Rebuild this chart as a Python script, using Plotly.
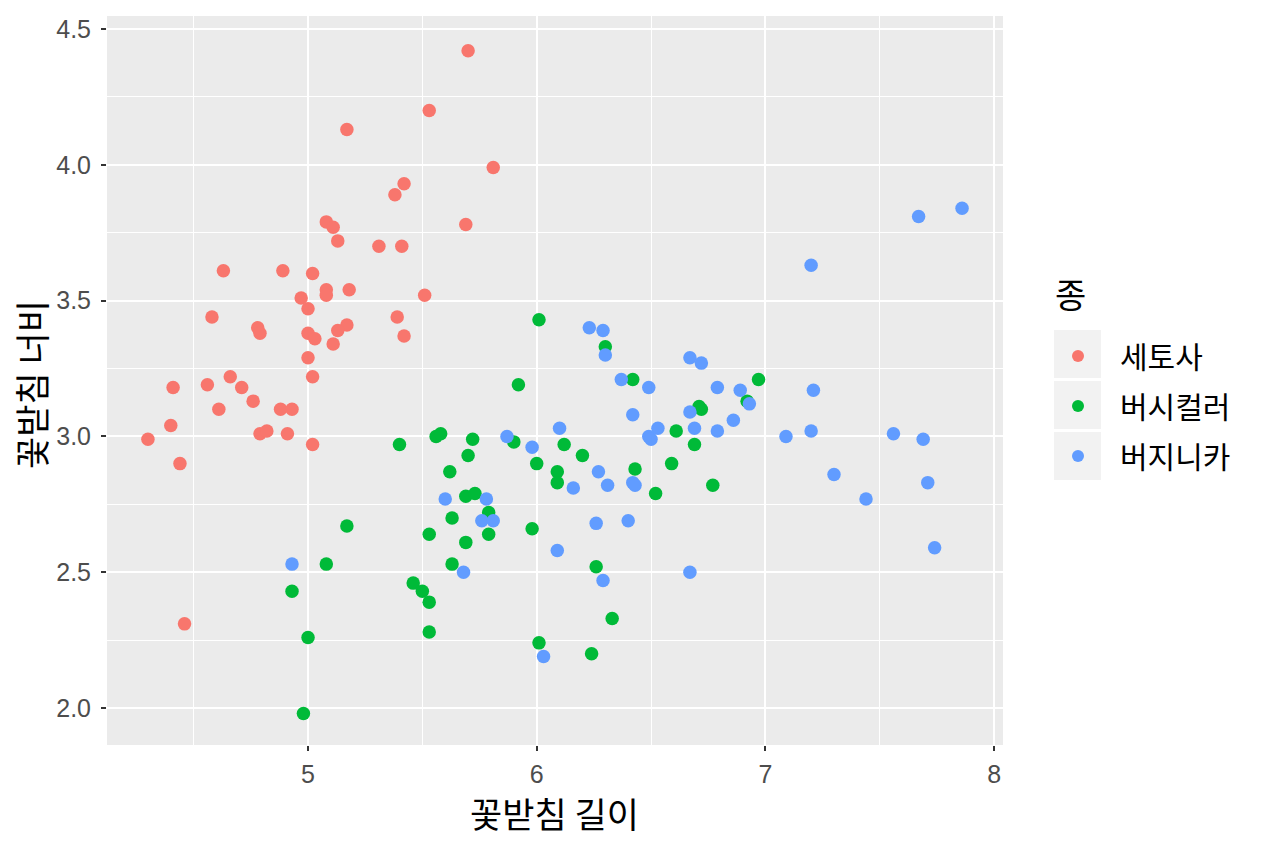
import plotly.graph_objects as go

species = ["세토사", "버시컬러", "버지니카"]
colors = ["#F8766D", "#00BA38", "#619CFF"]

setosa_x = [5.70, 5.53, 5.17, 5.81, 5.42, 5.38, 5.08, 5.11, 5.69, 5.13, 5.31, 5.41, 4.63, 4.89, 5.02,
            5.08, 5.18, 5.08, 5.51, 4.97, 5.00, 4.58, 5.39, 4.78, 4.79, 5.17, 5.13, 5.00, 5.03, 5.42,
            5.11, 5.00, 5.02, 4.66, 4.71, 4.41, 4.56, 4.76, 4.61, 4.88, 4.93, 4.40, 4.79, 4.82, 4.91,
            4.30, 5.02, 4.44, 4.46]
setosa_y = [4.42, 4.20, 4.13, 3.99, 3.93, 3.89, 3.79, 3.77, 3.78, 3.72, 3.70, 3.70, 3.61, 3.61, 3.60,
            3.54, 3.54, 3.52, 3.52, 3.51, 3.47, 3.44, 3.44, 3.40, 3.38, 3.41, 3.39, 3.38, 3.36, 3.37,
            3.34, 3.29, 3.22, 3.22, 3.18, 3.18, 3.19, 3.13, 3.10, 3.10, 3.10, 3.04, 3.01, 3.02, 3.01,
            2.99, 2.97, 2.90, 2.31]

versicolor_x = [6.01, 6.30, 6.42, 5.92, 6.97, 6.71, 6.72, 6.92, 6.61, 6.12, 6.69, 6.00, 6.20, 6.09, 6.09,
                6.59, 6.43, 6.52, 6.77, 5.98, 6.26, 6.33, 6.01, 6.24, 5.40, 5.56, 5.58, 5.72, 5.70, 5.90,
                5.62, 5.69, 5.73, 5.79, 5.79, 5.63, 5.17, 5.53, 5.69, 5.08, 5.63, 4.93, 5.46, 5.50, 5.53,
                5.00, 5.53, 4.98]
versicolor_y = [3.43, 3.33, 3.21, 3.19, 3.21, 3.11, 3.10, 3.13, 3.02, 2.97, 2.97, 2.90, 2.93, 2.87, 2.83,
                2.90, 2.88, 2.79, 2.82, 2.66, 2.52, 2.33, 2.24, 2.20, 2.97, 3.00, 3.01, 2.99, 2.93, 2.98,
                2.87, 2.78, 2.79, 2.72, 2.64, 2.70, 2.67, 2.64, 2.61, 2.53, 2.53, 2.43, 2.46, 2.43, 2.39,
                2.26, 2.28, 1.98]

virginica_x = [7.67, 7.86, 7.20, 6.23, 6.29, 6.30, 6.37, 6.49, 6.67, 6.72, 6.79, 6.89, 6.93, 6.42, 6.67,
               6.69, 6.79, 6.86, 6.53, 6.49, 6.50, 6.10, 5.98, 6.27, 6.16, 6.31, 6.42, 6.43, 6.26, 6.40,
               7.09, 7.21, 7.20, 7.56, 7.69, 7.30, 7.71, 7.44, 7.74, 6.67, 4.93, 5.60, 5.78, 5.76, 5.81,
               5.68, 5.87, 6.09, 6.03, 6.29]
virginica_y = [3.81, 3.84, 3.63, 3.40, 3.39, 3.30, 3.21, 3.18, 3.29, 3.27, 3.18, 3.17, 3.12, 3.08, 3.09,
               3.03, 3.02, 3.06, 3.03, 3.00, 2.99, 3.03, 2.96, 2.87, 2.81, 2.82, 2.83, 2.82, 2.68, 2.69,
               3.00, 3.17, 3.02, 3.01, 2.99, 2.86, 2.83, 2.77, 2.59, 2.50, 2.53, 2.77, 2.77, 2.69, 2.69,
               2.50, 3.00, 2.58, 2.19, 2.47]

x_ticks = [5, 6, 7, 8]
y_ticks = [2.0, 2.5, 3.0, 3.5, 4.0, 4.5]
y_tick_labels = ["2.0", "2.5", "3.0", "3.5", "4.0", "4.5"]

x_title = "꽃받침 길이"
y_title = "꽃받침 너비"
legend_title = "종"

FONT = "Liberation Sans, Noto Sans CJK KR, sans-serif"
KFONT = "Noto Sans CJK KR, sans-serif"

# page is offset by the 8px body margin; panel spans page x 107..1003, y 16..745
PX0, PW, PY1, PH = 107, 896, 745, 729

fig = go.Figure()
for name, c, xs, ys in zip(species, colors,
                           [setosa_x, versicolor_x, virginica_x],
                           [setosa_y, versicolor_y, virginica_y]):
    fig.add_trace(go.Scatter(x=xs, y=ys, mode="markers", name=name, legendgroup=name,
                             marker=dict(color=c, size=13.5, line=dict(width=0))))

# legend key backgrounds (ggplot style)
for t in [330, 381, 432]:
    fig.add_shape(type="rect", xref="paper", yref="paper",
                  x0=(1054 - PX0) / PW, x1=(1101 - PX0) / PW,
                  y0=(PY1 - (t + 48)) / PH, y1=(PY1 - t) / PH,
                  fillcolor="#F2F2F2", line=dict(width=0), layer="below")

fig.add_annotation(text=legend_title, xref="paper", yref="paper",
                   x=(1053 - PX0) / PW, y=(PY1 - 293) / PH, xanchor="left", yanchor="middle",
                   showarrow=False, font=dict(family=KFONT, size=34, color="black"))
fig.add_annotation(text=x_title, xref="paper", yref="paper",
                   x=(554 - PX0) / PW, y=(PY1 - 812) / PH, xanchor="center", yanchor="middle",
                   showarrow=False, font=dict(family=KFONT, size=35, color="black"))
fig.add_annotation(text=y_title, xref="paper", yref="paper", textangle=-90,
                   x=(30 - PX0) / PW, y=(PY1 - 385) / PH, xanchor="center", yanchor="middle",
                   showarrow=False, font=dict(family=KFONT, size=35, color="black"))

axis_common = dict(showgrid=True, gridcolor="white", gridwidth=2.2, zeroline=False,
                   ticks="outside", ticklen=5, tickwidth=1.6, tickcolor="#333333",
                   tickfont=dict(family=FONT, size=25, color="#4D4D4D"),
                   showline=False)

fig.update_xaxes(range=[4.121, 8.039], tickvals=x_ticks, ticktext=[str(v) for v in x_ticks],
                 minor=dict(dtick=0.5, tick0=4.5, showgrid=True, gridcolor="white", gridwidth=1.1, ticks=""),
                 ticklabelstandoff=2,
                 **axis_common)
fig.update_yaxes(range=[1.864, 4.548], tickvals=y_ticks, ticktext=y_tick_labels,
                 minor=dict(dtick=0.25, tick0=2.25, showgrid=True, gridcolor="white", gridwidth=1.1, ticks=""),
                 ticklabelstandoff=5,
                 **axis_common)

fig.update_layout(
    width=1248, height=827,
    margin=dict(l=99, r=253, t=8, b=90, autoexpand=False),
    plot_bgcolor="#EBEBEB", paper_bgcolor="white",
    legend=dict(font=dict(family=KFONT, size=30, color="black"),
                x=(1036 - PX0) / PW, xanchor="left", y=(PY1 - 330) / PH, yanchor="top",
                itemwidth=74, tracegroupgap=8, itemsizing="constant", bgcolor="rgba(0,0,0,0)"),
    showlegend=True,
)

fig.write_html("out.html")
